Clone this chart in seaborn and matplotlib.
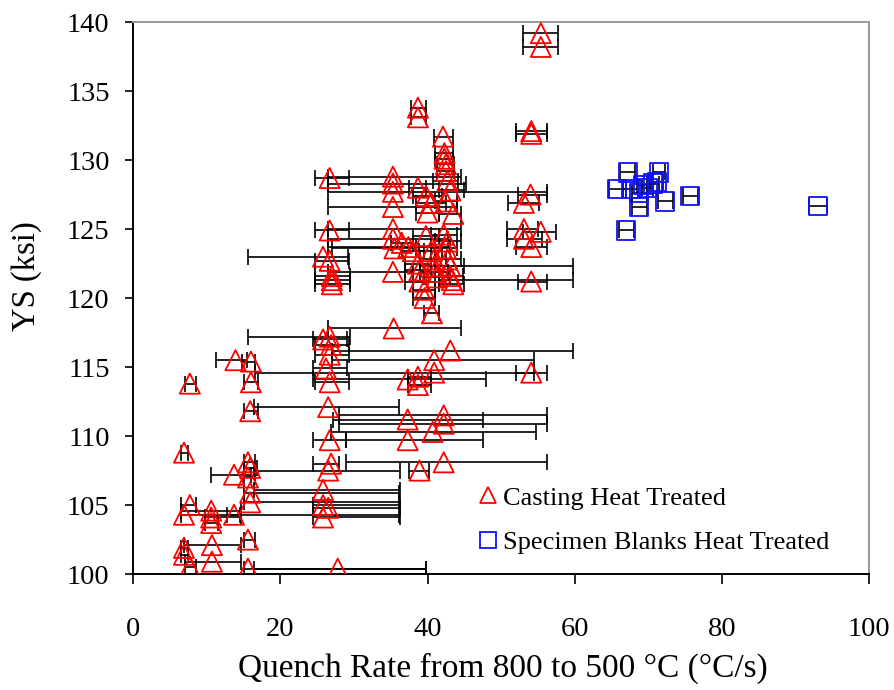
import matplotlib
matplotlib.use("Agg")
import matplotlib.pyplot as plt
import seaborn as sns
import numpy as np
import pandas as pd
from matplotlib.lines import Line2D

# ---- Casting Heat Treated: quench rate, YS, error-bar low end, high end ----
cast_x = [55.4, 55.4, 38.7, 38.7, 42.1, 54.1, 54.1, 42.3, 42.3, 42.5, 42.5,
          26.7, 35.3, 35.3, 35.3, 38.7, 42.7, 43.1, 39.8, 40.5, 42.5, 54.0, 53.1, 35.3, 43.5, 40.0,
          26.7, 35.3, 35.3, 36.5, 37.4, 35.5, 38.0, 39.8, 42.2, 42.7, 42.5, 40.5, 53.1, 55.4, 53.1, 54.1, 54.1,
          25.8, 26.7, 27.0, 27.0, 27.0, 35.3, 38.7, 38.9, 38.9, 39.6, 39.6, 40.9, 40.9, 41.0, 41.2,
          42.7, 43.1, 43.1, 43.3, 43.5, 40.6,
          35.4, 25.8, 26.7, 26.9, 26.7, 26.2, 26.7, 43.1, 40.9, 40.9, 37.3, 38.7, 38.7, 54.1,
          13.9, 16.0, 16.0, 7.7, 15.9,
          26.5, 37.3, 42.2, 42.2, 40.7, 37.3, 26.7, 42.2, 26.9, 38.9, 26.5, 25.8, 25.8, 26.5, 25.8,
          6.9, 15.6, 15.9, 13.7, 15.6, 15.9, 15.9, 7.7, 10.6, 13.7, 6.9, 10.6, 10.6,
          15.6, 10.7, 6.9, 6.9, 10.7, 7.7, 15.6, 27.8]
cast_y = [139.2, 138.2, 133.8, 133.1, 131.7, 132.1, 131.9, 130.5, 130.1, 129.7, 129.2,
          128.7, 128.8, 128.3, 127.7, 128.0, 128.5, 127.8, 127.4, 126.9, 127.0, 127.5, 126.9, 126.6, 126.1, 126.2,
          124.9, 125.0, 124.3, 124.0, 123.7, 123.6, 123.4, 124.5, 124.6, 124.1, 123.6, 123.4, 125.0, 124.8, 124.3, 123.7, 121.2,
          123.0, 122.7, 121.6, 121.3, 121.0, 121.9, 122.5, 122.0, 121.2, 120.6, 120.0, 122.8, 122.3, 121.9, 121.5,
          122.8, 122.3, 121.6, 121.3, 121.0, 118.9,
          117.8, 117.0, 117.2, 116.6, 115.9, 114.9, 113.9, 116.2, 115.5, 114.6, 114.1, 114.3, 113.7, 114.6,
          115.5, 115.4, 113.9, 113.8, 111.8,
          112.1, 111.2, 111.5, 110.9, 110.3, 109.7, 109.7, 108.1, 108.0, 107.5, 107.5, 106.1, 105.0, 104.8, 104.1,
          108.8, 108.1, 107.7, 107.2, 107.0, 105.9, 105.2, 105.0, 104.6, 104.3, 104.3, 104.1, 103.7,
          102.5, 102.1, 101.9, 101.4, 100.9, 100.5, 100.4, 100.4]
cast_lo = [53.0, 53.0, 37.8, 37.8, 40.9, 52.0, 52.0, 41.0, 41.0, 41.3, 41.3,
           24.7, 26.5, 26.5, 26.5, 37.5, 40.8, 41.5, 38.0, 38.5, 41.0, 52.3, 51.0, 26.5, 41.5, 38.5,
           24.7, 26.5, 26.5, 35.0, 26.5, 27.0, 36.5, 38.0, 40.5, 41.0, 40.5, 38.8, 50.8, 53.0, 50.8, 52.0, 52.3,
           15.6, 24.7, 24.7, 24.7, 24.7, 26.5, 37.0, 37.0, 37.0, 38.0, 38.0, 39.0, 39.0, 39.0, 39.5,
           41.0, 41.0, 41.5, 41.5, 41.5, 39.5,
           26.5, 24.5, 15.6, 24.7, 24.7, 24.5, 24.7, 27.0, 27.0, 16.5, 24.5, 37.3, 37.3, 52.0,
           11.2, 14.8, 15.0, 7.0, 15.0,
           16.4, 27.1, 28.0, 28.0, 26.9, 28.9, 24.5, 28.9, 24.5, 37.5, 16.4, 16.4, 24.5, 24.5, 24.5,
           6.5, 15.0, 15.0, 10.6, 15.0, 15.0, 15.0, 6.5, 6.5, 12.8, 6.5, 9.8, 9.8,
           15.0, 6.9, 6.5, 6.5, 7.0, 7.0, 15.0, 16.4]
cast_hi = [57.8, 57.8, 39.8, 39.8, 43.5, 56.3, 56.3, 43.4, 43.4, 43.6, 43.6,
           29.3, 44.6, 45.2, 56.3, 39.8, 44.2, 45.0, 42.0, 42.5, 44.0, 56.3, 55.2, 44.0, 44.5, 41.5,
           29.3, 44.5, 42.8, 38.0, 43.0, 38.5, 39.5, 41.5, 44.0, 44.5, 44.0, 42.0, 55.0, 57.5, 55.5, 56.3, 56.3,
           29.2, 29.3, 29.5, 29.5, 29.5, 38.0, 40.5, 40.5, 41.0, 41.0, 41.0, 42.5, 59.8, 42.8, 43.0,
           44.5, 45.0, 44.8, 59.8, 45.0, 41.5,
           44.5, 29.0, 29.5, 29.3, 29.3, 29.0, 29.3, 59.8, 54.5, 54.5, 48.0, 40.5, 40.5, 56.3,
           15.5, 16.5, 17.0, 8.5, 17.0,
           36.1, 47.6, 56.3, 56.3, 54.7, 47.6, 28.9, 56.3, 28.0, 40.2, 36.2, 36.2, 36.2, 36.2, 36.2,
           7.5, 16.5, 16.8, 16.0, 16.5, 36.1, 36.1, 8.5, 14.7, 14.5, 36.1, 14.7, 11.5,
           16.5, 14.7, 7.5, 7.5, 14.7, 8.5, 39.8, 39.8]

# ---- Specimen Blanks Heat Treated ----
spec_x = [67.2, 71.5, 65.8, 67.6, 69.3, 71.2, 68.8, 69.9, 70.6, 72.3, 68.8, 75.7, 67.0, 93.1]
spec_y = [129.1, 129.1, 127.9, 127.9, 128.2, 128.4, 127.6, 128.0, 128.3, 127.0, 126.6, 127.4, 124.9, 126.7]
spec_err = [1.0, 0.8, 1.2, 1.0, 0.8, 0.8, 1.0, 0.8, 0.8, 1.0, 1.0, 1.0, 1.0, 1.2]

x_ticks = [0, 20, 40, 60, 80, 100]
y_ticks = [100, 105, 110, 115, 120, 125, 130, 135, 140]
labels = ["Casting Heat Treated", "Specimen Blanks Heat Treated"]

sns.set_style("ticks")
plt.rcParams['font.family'] = ['Liberation Serif', 'DejaVu Serif']
plt.rcParams['text.color'] = 'black'
plt.rcParams['axes.labelcolor'] = 'black'

fig = plt.figure(figsize=(8.94, 6.9), dpi=100)
ax = fig.add_axes([0.149, 0.168, 0.823, 0.800])

cx = np.array(cast_x); cy = np.array(cast_y)
clo = np.clip(cx - np.array(cast_lo), 0, None)
chi = np.clip(np.array(cast_hi) - cx, 0, None)
ax.errorbar(cx, cy, xerr=[clo, chi], fmt='none', ecolor='black',
            elinewidth=1.2, capsize=6, capthick=1.2, zorder=2)
sx = np.array(spec_x); sy = np.array(spec_y); se = np.array(spec_err)
ax.errorbar(sx, sy, xerr=se, fmt='none', ecolor='black',
            elinewidth=1.2, capsize=6, capthick=1.2, zorder=2)

df_c = pd.DataFrame({"x": cast_x, "y": cast_y})
df_s = pd.DataFrame({"x": spec_x, "y": spec_y})
sns.scatterplot(data=df_c, x="x", y="y", ax=ax, marker='^', s=210,
                facecolors='none', edgecolor='#ff0000', linewidth=1.3, zorder=3)
sns.scatterplot(data=df_s, x="x", y="y", ax=ax, marker='s', s=170,
                facecolors='none', edgecolor='#1010ff', linewidth=1.3, zorder=3)

ax.set_xlim(0, 100)
ax.set_ylim(100, 140)
ax.set_xticks(x_ticks)
ax.set_yticks(y_ticks)
ax.tick_params(axis='both', direction='out', width=1.2, labelsize=20.5,
               colors='black', top=False, right=False)
ax.tick_params(axis='x', length=7, pad=24)
ax.tick_params(axis='y', length=6, pad=11)
ax.set_xlabel("Quench Rate from 800 to 500 °C (°C/s)", fontsize=24)
ax.set_ylabel("YS (ksi)", fontsize=23.5)
ax.xaxis.set_label_coords(0.503, -0.143)
ax.yaxis.set_label_coords(-0.124, 0.54)

for s in ['left', 'bottom']:
    ax.spines[s].set_color('black'); ax.spines[s].set_linewidth(1.4)
for s in ['top', 'right']:
    ax.spines[s].set_color('#999999'); ax.spines[s].set_linewidth(1.4)
    ax.spines[s].set_visible(True)

handles = [Line2D([], [], ls='none', marker='^', ms=11, mfc='none', mec='#ff0000', mew=1.3),
           Line2D([], [], ls='none', marker='s', ms=11, mfc='none', mec='#1010ff', mew=1.3)]
ax.legend(handles, labels, loc='lower left', bbox_to_anchor=(0.468, 0.036),
          frameon=False, fontsize=19, labelspacing=0.8, handletextpad=0.17,
          handlelength=0.8, borderpad=0, borderaxespad=0)

fig.savefig("out.png", dpi=100)
